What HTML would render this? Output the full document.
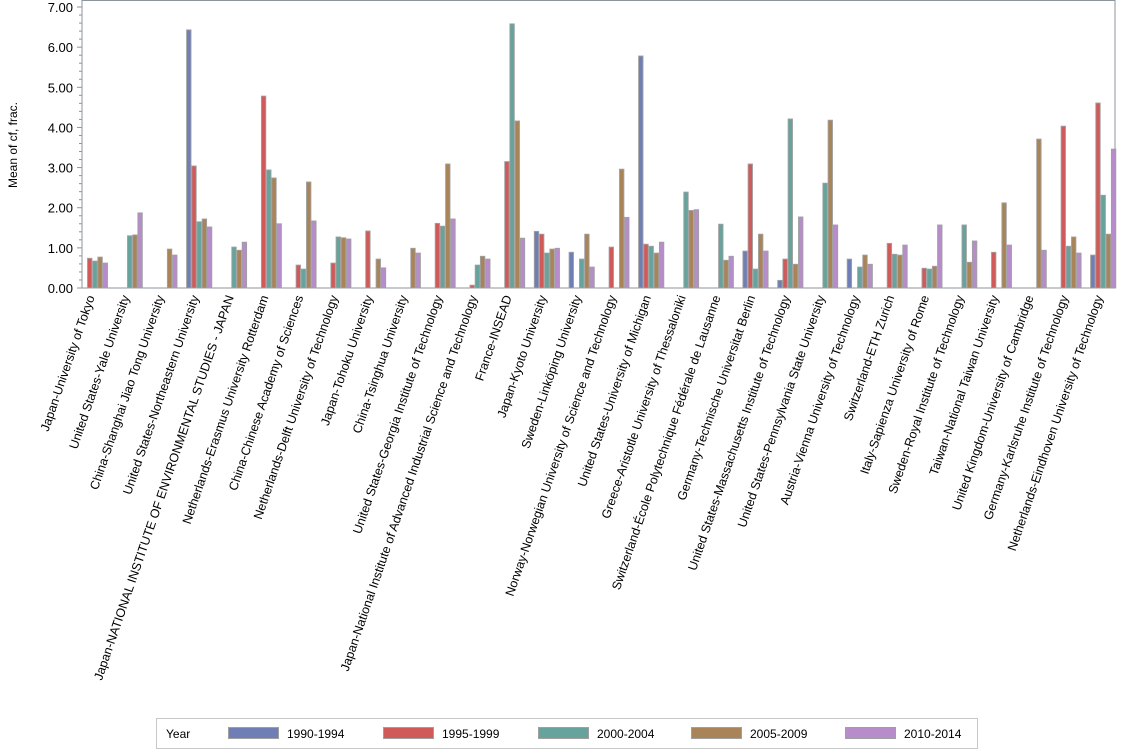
<!DOCTYPE html>
<html><head><meta charset="utf-8"><style>
html,body{margin:0;padding:0;background:#fff;width:1134px;height:756px;overflow:hidden}
text{font-family:"Liberation Sans",sans-serif;fill:#000}
</style></head><body>
<svg id="s" width="1134" height="756" xmlns="http://www.w3.org/2000/svg">
<rect x="82" y="0.5" width="1033" height="287.5" fill="none" stroke="#8d959c" stroke-width="1"/>
<g id="ax"></g>
<g id="bars"></g>
<g id="labs" font-size="12.5"></g>
<text transform="translate(17,145) rotate(-90)" text-anchor="middle" font-size="12">Mean of cf, frac.</text>
<rect x="156.5" y="718.5" width="821" height="30" fill="#fff" stroke="#c8c8c8"/>
<text x="166" y="738" font-size="12">Year</text>
<g font-size="12">
<rect x="228.5" y="727.5" width="50" height="11" fill="#6f7fb5" stroke="#a0a0a0"/><text x="287" y="738">1990-1994</text>
<rect x="383.5" y="727.5" width="50" height="11" fill="#d05a5a" stroke="#a0a0a0"/><text x="442" y="738">1995-1999</text>
<rect x="538.5" y="727.5" width="50" height="11" fill="#66a39c" stroke="#a0a0a0"/><text x="597" y="738">2000-2004</text>
<rect x="691.5" y="727.5" width="50" height="11" fill="#a88458" stroke="#a0a0a0"/><text x="750" y="738">2005-2009</text>
<rect x="845.5" y="727.5" width="50" height="11" fill="#b68ccb" stroke="#a0a0a0"/><text x="904" y="738">2010-2014</text>
</g>
</svg>
<script>
const NS="http://www.w3.org/2000/svg";
function el(p,t,a,txt){const e=document.createElementNS(NS,t);for(const k in a)e.setAttribute(k,a[k]);if(txt!==undefined)e.textContent=txt;p.appendChild(e);return e;}
const Y0=288,S=40.14;
const ax=document.getElementById('ax');
for(let i=0;i<=35;i++){const y=Y0-i*0.2*S;const maj=i%5==0;
el(ax,'line',{x1:maj?77:79,x2:82,y1:y,y2:y,stroke:'#8d959c'});
if(maj)el(ax,'text',{x:73,y:y+5,'text-anchor':'end','font-size':13},(i/5).toFixed(2));}
const C=['#6f7fb5','#d05a5a','#66a39c','#a88458','#b68ccb'];
const D=[
["Japan-University of Tokyo",[0,.74,.67,.77,.62]],
["United States-Yale University",[0,0,1.30,1.32,1.87]],
["China-Shanghai Jiao Tong University",[0,0,0,.97,.82]],
["United States-Northeastern University",[6.43,3.04,1.65,1.72,1.52]],
["Japan-NATIONAL INSTITUTE OF ENVIRONMENTAL STUDIES - JAPAN",[0,0,1.02,.94,1.14]],
["Netherlands-Erasmus University Rotterdam",[0,4.78,2.94,2.74,1.60]],
["China-Chinese Academy of Sciences",[0,.57,.47,2.64,1.67]],
["Netherlands-Delft University of Technology",[0,.62,1.27,1.25,1.22]],
["Japan-Tohoku University",[0,1.42,0,.72,.50]],
["China-Tsinghua University",[0,0,0,.99,.87]],
["United States-Georgia Institute of Technology",[0,1.61,1.54,3.09,1.72]],
["Japan-National Institute of Advanced Industrial Science and Technology",[0,.07,.57,.79,.72]],
["France-INSEAD",[0,3.15,6.58,4.16,1.24]],
["Japan-Kyoto University",[1.41,1.34,.87,.97,.99]],
["Sweden-Linköping University",[.89,0,.72,1.34,.52]],
["Norway-Norwegian University of Science and Technology",[0,1.02,0,2.96,1.76]],
["United States-University of Michigan",[5.78,1.09,1.04,.87,1.14]],
["Greece-Aristotle University of Thessaloniki",[0,0,2.39,1.93,1.95]],
["Switzerland-École Polytechnique Fédérale de Lausanne",[0,0,1.59,.69,.79]],
["Germany-Technische Universitat Berlin",[.92,3.09,.47,1.34,.92]],
["United States-Massachusetts Institute of Technology",[.19,.72,4.21,.59,1.77]],
["United States-Pennsylvania State University",[0,0,2.61,4.18,1.57]],
["Austria-Vienna University of Technology",[.72,0,.52,.82,.59]],
["Switzerland-ETH Zurich",[0,1.11,.84,.82,1.07]],
["Italy-Sapienza University of Rome",[0,.49,.47,.54,1.57]],
["Sweden-Royal Institute of Technology",[0,0,1.57,.64,1.17]],
["Taiwan-National Taiwan University",[0,.89,0,2.12,1.07]],
["United Kingdom-University of Cambridge",[0,0,0,3.71,.94]],
["Germany-Karlsruhe Institute of Technology",[0,4.03,1.04,1.27,.87]],
["Netherlands-Eindhoven University of Technology",[.82,4.61,2.31,1.34,3.46]]];
const bars=document.getElementById('bars'),labs=document.getElementById('labs');
D.forEach((d,i)=>{const x0=81.8+34.77*i;
d[1].forEach((v,j)=>{if(v<=0)return;const h=v*S;
el(bars,'rect',{x:(x0+j*5.2+0.5).toFixed(1),y:(Y0-h).toFixed(1),width:4.4,height:h.toFixed(1),fill:C[j],stroke:'#a0a0a0','stroke-width':0.9});});
const cx=x0+13;
el(labs,'text',{transform:`translate(${cx.toFixed(1)},297) rotate(-71)`,'text-anchor':'end'},d[0]);});
</script>
</body></html>
